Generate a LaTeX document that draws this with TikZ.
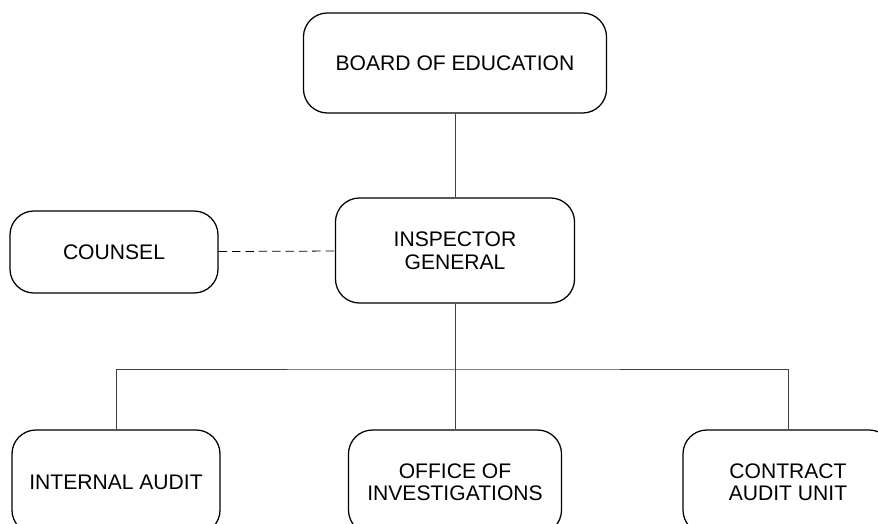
\documentclass[tikz,border=0pt]{standalone}
\usepackage{fontspec}
\setmainfont{Liberation Sans}
\begin{document}
\begin{tikzpicture}[x=0.025cm,y=-0.025cm,
    unit/.style={draw,line width=0.9pt,rounded corners=0.6cm,align=center,
      inner sep=0pt,font=\fontsize{15}{16}\selectfont},
    link/.style={line width=0.55pt,black!75}]
    \useasboundingbox (0,0) rectangle (878,524);
    % top of the chart
    \node[unit,minimum width=7.575cm,minimum height=2.5cm] (board) at (455,63) {BOARD OF EDUCATION};
    \node[unit,minimum width=5.975cm,minimum height=2.625cm] (ig) at (455,250.5) {INSPECTOR\\GENERAL};
    \node[unit,minimum width=5.2cm,minimum height=2.05cm] (counsel) at (114,252) {COUNSEL};
    % units under the inspector general
    \node[unit,minimum width=5.2cm,minimum height=2.6cm] (ia) at (116,482) {INTERNAL AUDIT};
    \node[unit,minimum width=5.325cm,minimum height=2.6cm] (oi) at (455,482) {OFFICE OF\\INVESTIGATIONS};
    \node[unit,minimum width=5.25cm,minimum height=2.6cm] (cau) at (788,482) {CONTRACT\\AUDIT UNIT};
    \coordinate (split) at (ig.south |- 0,369);
    \draw[link] (board)--(ig);
    \draw[link,black,dash pattern=on 6pt off 3.5pt] (counsel)--(ig);
    \draw[link] (ig)--(split);
    \draw[link] (ia.north)|-(split)-|(cau.north) (split)--(oi.north);
\end{tikzpicture}
\end{document}
